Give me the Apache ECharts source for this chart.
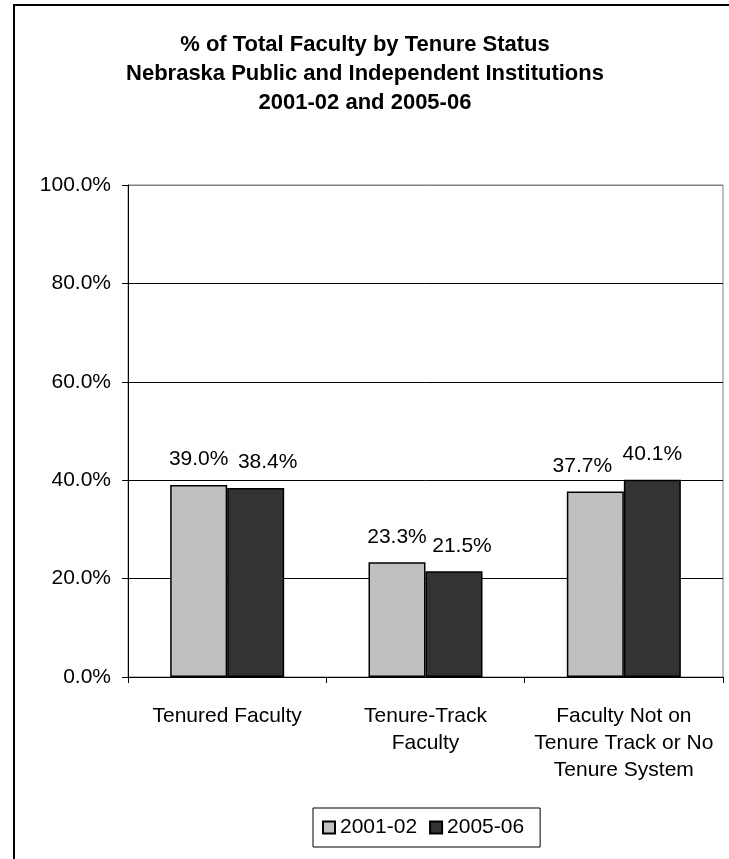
<!DOCTYPE html>
<html>
<head>
<meta charset="utf-8">
<script src="https://cdn.jsdelivr.net/npm/echarts@6/dist/echarts.min.js"></script>
<style>
html,body{margin:0;padding:0;overflow:hidden;background:#fff;}
#chart{width:730px;height:859px;}
</style>
</head>
<body>
<div id="chart"></div>
<script>
const categories = ['Tenured Faculty', 'Tenure-Track\nFaculty', 'Faculty Not on\nTenure Track or No\nTenure System'];
const seriesNames = ['2001-02', '2005-06'];
const values2001 = [39.0, 23.3, 37.7];
const values2005 = [38.4, 21.5, 40.1];
const yTicks = [0, 20, 40, 60, 80, 100];

const FONT = '"Liberation Sans", Arial, sans-serif';
const labelShift = [[0, 0, -13], [12, 8, 0]];
const colors = ['#C0C0C0', '#333333'];

function makeSeries(name, vals, idx) {
  return {
    name: name,
    type: 'bar',
    barWidth: 57,
    barGap: '0%',
    itemStyle: { color: colors[idx], borderColor: '#000', borderWidth: 1.5 },
    label: {
      show: true, position: 'top', distance: 15,
      color: '#000', fontFamily: FONT, fontSize: 21,
      formatter: p => p.value.toFixed(1) + '%'
    },
    data: vals.map((v, i) => ({ value: v, label: { offset: [labelShift[idx][i], 0] } }))
  };
}

const chart = echarts.init(document.getElementById('chart'), null, { renderer: 'canvas' });
chart.setOption({
  animation: false,
  backgroundColor: '#fff',
  title: {
    text: '% of Total Faculty by Tenure Status\nNebraska Public and Independent Institutions\n2001-02 and 2005-06',
    left: 'center', top: 25,
    textStyle: { fontFamily: FONT, fontSize: 22, fontWeight: 'bold', color: '#000', lineHeight: 29 }
  },
  graphic: [{
    type: 'rect', shape: { x: 14, y: 5, width: 900, height: 1000 },
    style: { fill: 'none', stroke: '#000', lineWidth: 2 }, silent: true, z: -1
  }],
  grid: { left: 128, top: 185, width: 595, height: 492, show: true, borderColor: '#808080', borderWidth: 1, backgroundColor: 'transparent' },
  legend: {
    data: seriesNames,
    left: 313, top: 808,
    padding: [9, 16, 9, 9],
    itemGap: 12,
    itemWidth: 12, itemHeight: 12,
    icon: 'rect',
    borderColor: '#000', borderWidth: 1,
    textStyle: { fontFamily: FONT, fontSize: 21, color: '#000' }
  },
  xAxis: {
    type: 'category',
    data: categories,
    axisLine: { lineStyle: { color: '#000', width: 1 } },
    axisTick: { show: true, length: 6, lineStyle: { color: '#000' } },
    axisLabel: { interval: 0, margin: 26, fontFamily: FONT, fontSize: 21, lineHeight: 27, color: '#000' }
  },
  yAxis: {
    type: 'value',
    min: yTicks[0], max: yTicks[yTicks.length - 1], interval: yTicks[1] - yTicks[0],
    axisLine: { show: true, lineStyle: { color: '#000', width: 1 } },
    axisTick: { show: true, length: 6, lineStyle: { color: '#000' } },
    axisLabel: { margin: 17, fontFamily: FONT, fontSize: 21, color: '#000', formatter: v => v.toFixed(1) + '%' },
    splitLine: { show: true, lineStyle: { color: ['#000', '#000', '#000', '#000', '#000', '#808080'], width: 1 } }
  },
  series: [makeSeries(seriesNames[0], values2001, 0), makeSeries(seriesNames[1], values2005, 1)]
});
</script>
</body>
</html>
